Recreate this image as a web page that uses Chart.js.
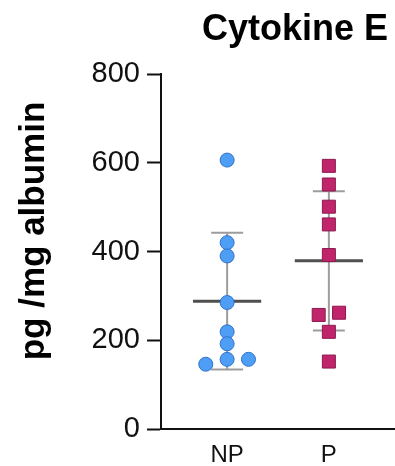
<!DOCTYPE html>
<html>
<head>
<meta charset="utf-8">
<script src="https://cdn.jsdelivr.net/npm/chart.js@4/dist/chart.umd.min.js"></script>
<style>
  html, body { margin: 0; padding: 0; background: #fff; }
  #wrap { width: 395px; height: 466px; position: relative; }
</style>
</head>
<body>
<div id="wrap"><canvas id="c"></canvas></div>
<script>
// ---- data ----
const chartTitle = 'Cytokine E';
const yAxisTitle = 'pg /mg albumin';
const categories = ['NP', 'P'];
const yTicks = [0, 200, 400, 600, 800];

const npValues = [606, 420, 390, 285, 219, 192, 157, 146, 157];
const npJitter = [0, 0, 0, 0, 0, 0, 0, -0.21, 0.21];
const pValues = [593, 551, 501, 461, 392, 257, 262, 219, 152];
const pJitter = [0, 0, 0, 0, 0, -0.1, 0.1, 0, 0];

const groupMeans = [288, 379];
const groupSD = [154, 157];

// ---- build datasets ----
const FONT = 'Arial, "Liberation Sans", Helvetica, sans-serif';
const meanHalf = 0.335, capHalf = 0.157;

function pts(vals, jit, g) { return vals.map((v, i) => ({ x: g + jit[i], y: v })); }

const errData = [], meanData = [];
categories.forEach((c, i) => {
  const g = i + 1, m = groupMeans[i], s = groupSD[i];
  errData.push({x: g, y: m - s}, {x: g, y: m + s}, {x: g, y: null},
               {x: g - capHalf, y: m + s}, {x: g + capHalf, y: m + s}, {x: g, y: null},
               {x: g - capHalf, y: m - s}, {x: g + capHalf, y: m - s}, {x: g, y: null});
  meanData.push({x: g - meanHalf, y: m}, {x: g + meanHalf, y: m}, {x: g, y: null});
});

const titlePlugin = {
  id: 'textTitles',
  afterDraw(chart) {
    const ctx = chart.ctx;
    ctx.save();
    ctx.font = 'bold 36px ' + FONT;
    ctx.fillStyle = '#000';
    ctx.textAlign = 'right';
    ctx.textBaseline = 'alphabetic';
    ctx.fillText(chartTitle, chart.chartArea.right - 7, 40);
    ctx.restore();

    ctx.save();
    ctx.font = 'bold 35px ' + FONT;
    ctx.fillStyle = '#000';
    ctx.textAlign = 'center';
    ctx.textBaseline = 'middle';
    ctx.translate(34.5, 231);
    ctx.rotate(-Math.PI / 2);
    ctx.fillText(yAxisTitle, 0, 0);
    ctx.restore();
  }
};

new Chart(document.getElementById('c'), {
  type: 'scatter',
  data: {
    datasets: [
      { data: pts(npValues, npJitter, 1), pointStyle: 'circle', pointRadius: 7, pointBorderWidth: 1,
        backgroundColor: '#4f9ef5', borderColor: '#2f72c9', order: 0 },
      { data: pts(pValues, pJitter, 2), pointStyle: 'rect', pointRadius: 9.2, pointBorderWidth: 1,
        backgroundColor: '#c0246b', borderColor: '#8c1a4e', order: 0 },
      { data: errData, showLine: true, spanGaps: false, pointRadius: 0, borderColor: '#9d9d9d',
        borderWidth: 2, order: 2 },
      { data: meanData, showLine: true, spanGaps: false, pointRadius: 0, borderColor: '#4f4f4f',
        borderWidth: 3, order: 1 }
    ]
  },
  options: {
    responsive: true,
    maintainAspectRatio: false,
    animation: false,
    layout: { autoPadding: false, padding: { top: 74, left: 0, right: 0, bottom: 0 } },
    plugins: { legend: { display: false }, tooltip: { enabled: false }, title: { display: false } },
    scales: {
      x: {
        type: 'linear', min: 0.35, max: 2.65,
        afterBuildTicks: (s) => { s.ticks = categories.map((c, i) => ({ value: i + 1 })); },
        afterFit: (s) => { s.height = 37; },
        ticks: { callback: (v) => categories[v - 1] || '', color: '#111', padding: 12,
                 font: { family: FONT, size: 24 }, maxRotation: 0, autoSkip: false },
        grid: { display: false, drawTicks: false },
        border: { display: true, color: '#111', width: 2 }
      },
      y: {
        min: 0, max: 800,
        afterBuildTicks: (s) => { s.ticks = yTicks.map(v => ({ value: v })); },
        afterFit: (s) => { s.width = 161; },
        ticks: { color: '#111', padding: 7, font: { family: FONT, size: 29 } },
        grid: { display: true, drawOnChartArea: false, drawTicks: true, tickLength: 14,
                tickWidth: 2, tickColor: '#111' },
        border: { display: true, color: '#111', width: 2 },
        title: { display: false }
      }
    }
  },
  plugins: [titlePlugin]
});
</script>
</body>
</html>
